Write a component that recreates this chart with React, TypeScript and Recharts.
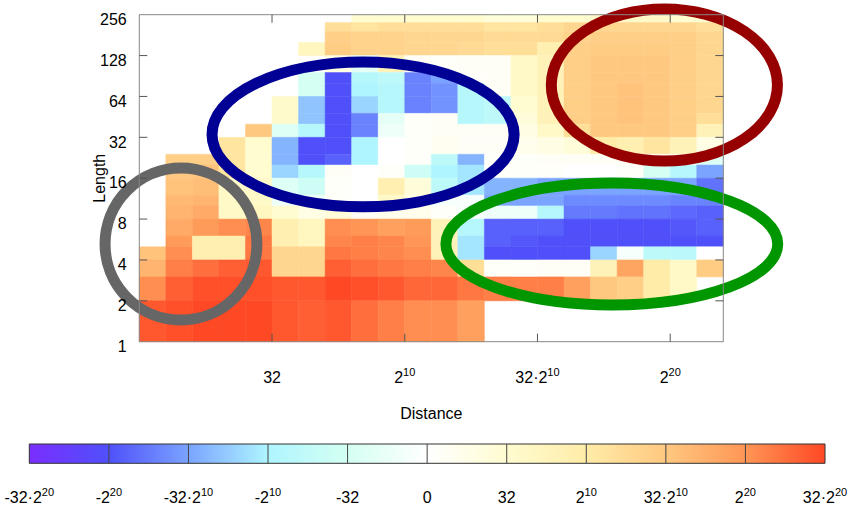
import React from "react";
import { ScatterChart, Scatter, XAxis, YAxis, ReferenceArea, ReferenceLine } from "recharts";

const FONT = "'Liberation Sans', Arial, Helvetica, sans-serif";

// row bands of the length axis (integer lengths grouped into bands)
const lengthEdges = [1, 2, 3, 4, 5, 6, 8, 10, 12, 16, 20, 24, 32, 40, 48, 64, 80, 96, 128, 160, 192, 224, 256];

// distance columns, one per power of two: 2^0 .. 2^21
const distanceExps = [0, 1, 2, 3, 4, 5, 6, 7, 8, 9, 10, 11, 12, 13, 14, 15, 16, 17, 18, 19, 20, 21];

const _ = null;
// signed log2 of each cell's value (e.g. -20 => -2^20); rows go from the top band (224-256) down to (1-2)
const heat: (number | null)[][] = [
  [_, _, _, _, _, _, _, _, 5, 5, 5, 5, 5, 4, 4, 5, 5, 6, 6, 6, 5, 5],
  [_, _, _, _, _, _, _, 12, 11, 12, 12, 12, 12, 11, 11, 12, 13, 13, 13, 13, 13, 12],
  [_, _, _, _, _, _, _, 14, 13.5, 13.5, 13, 13, 13, 12.5, 12.5, 12.5, 13.5, 14, 14, 14, 14, 13],
  [_, _, _, _, _, _, 7, 14.5, 13.5, 13.5, 13, 13, 12.5, 12, 12, 9, 14, 14.5, 14.5, 14.5, 14, 13],
  [_, _, _, _, _, _, _, 3, -3, 8, 1, 0.5, 1, 1, 6, 8, 14, 15, 15, 15, 14, 13],
  [_, _, _, _, _, _, -5, -20, -9, -8, -17, -15, 0.5, 1, 6, 8, 14, 15, 15, 15, 14, 13],
  [_, _, _, _, _, _, -5, -20, -10, -9, -17, -16, -9, 1, 6, 8, 14, 15, 15.5, 15, 14, 13],
  [_, _, _, _, _, 5.5, -13, -20, -12, -9, -17, -16, -9, -8, 5, 8, 14, 15, 15.5, 15, 14, 13],
  [_, _, _, _, _, 5.5, -13, -20, -17, -3, 0.5, 1, -9, -8, 4, 8, 14, 15, 15.5, 15, 14, 12],
  [_, _, _, _, 15, -4, -9, -20, -17, -2, 0.5, 1, 1, 1, 3, 6, 12, 15, 15, 15, 14, 8],
  [_, _, _, 11, 5, -14, -20, -20, -10, 0, 0.5, 1.5, 1, 1, 2, 3, 4, 10, 9, 11, 8, 3],
  [_, 14, 14, 11, 5, -14, -20, -19, -10, 0, 0.5, -8, -14, 0.5, 0.5, 1, 1, 1, 1, 1, 1, -4],
  [_, 15, 15.5, 11, 5, -12, -9, 1, 0, 0.5, -6, -10, -11, 0.5, 0.5, 0.5, 0, 0, 0.5, -5, -9, -15],
  [_, 15.5, 16, 6, 6, -4, -6, 0.5, 0, 9, 4, -8, -11, -14, -14, -15, -15, -15, -15, -15, -15, -18],
  [_, 16.5, 17, 6, 6, -2, -2, 0.5, 0, 6, 3, -1, -1, -15, -15, -15, -16.5, -16.5, -16.5, -16.5, -17, -17],
  [_, 17, 18, 6, 7, 5, 3, 4, 1, 2, 2, 0.5, -1, -2, -2, -9, -17.5, -17.5, -18, -18, -18.5, -19],
  [_, 18, 19.5, 20.5, 21, 9, 7, 20.5, 20, 19, 19.5, 8, -9, -19, -19, -19, -20, -20, -20, -20, -19.5, -19],
  [_, 19.5, 9, 9, 22, 9, 7, 21, 21.5, 21, 20, 8, -11, -19, -19.5, -20, -20, -20, -20, -20, -20, -20],
  [15.5, 20.5, 9, 9, 22, 13, 13, 22, 21.5, 21, 20.5, 8, -11, -20, -20, -20, -20, -12, -1, -8, -8.5, 0],
  [17, 21.5, 22.5, 23.5, 24, 13, 13, 23.5, 22.5, 22, 21.5, 21, 12, 0.5, 0.5, 1, 1, 8, 18.5, 10, 6, 14.5],
  [20.5, 23.5, 24.5, 24.5, 24.5, 24, 24, 25, 24.5, 24, 23, 23, 22, 21.5, 21.5, 21.5, 19, 15, 14, 10, 6, _],
  [24, 24.5, 25, 25, 25, 24, 23.5, 24, 22.5, 21.5, 20.5, 20.5, 19, _, _, _, _, _, _, _, _, _],
];

// highlighted regions: centre and radii in axis units (log2 distance, log2 length)
const regionNames = ["short", "middle", "far-long", "far-short"];
const regionCenters = [[1.57, 2.39], [8.43, 5.07], [19.78, 6.28], [17.8, 2.39]];
const regionRadii = [[2.86, 1.86], [5.69, 1.77], [4.26, 1.86], [6.25, 1.49]];
const regionColors = ["#666666", "#000094", "#960000", "#009600"];

const xTickValues = [5, 10, 15, 20];
const xTickLabels = [["32", ""], ["2", "10"], ["32·2", "10"], ["2", "20"]];
const yTickValues = [0, 1, 2, 3, 4, 5, 6, 7, 8];

const cbarTickValues = [-5, -4, -3, -2, -1, 0, 1, 2, 3, 4, 5];
const cbarTickLabels = [
  ["-32·2", "20"], ["-2", "20"], ["-32·2", "10"], ["-2", "10"], ["-32", ""], ["0", ""],
  ["32", ""], ["2", "10"], ["32·2", "10"], ["2", "20"], ["32·2", "20"],
];

// colour scale: position on the colour bar (value exponent / 5) -> rgb
const cmapPos = [-5, -4, -3, -2, -1, 0, 1, 2, 3, 4, 5];
const cmapRgb = [
  [122, 46, 255], [80, 80, 250], [122, 164, 255], [175, 245, 255], [212, 255, 242], [255, 255, 255],
  [255, 252, 208], [255, 236, 168], [255, 200, 128], [255, 150, 85], [255, 72, 36],
];

const X_MAX = 22;
const Y_MAX = 8;
const PLOT_W = 584;
const PLOT_H = 327;
// inward tick length (8px) in axis units
const TICK_X = (8 * X_MAX) / PLOT_W;
const TICK_Y = (8 * Y_MAX) / PLOT_H;

function rgbAt(t: number) {
  const v = Math.max(-5, Math.min(5, t));
  let i = 0;
  while (i < cmapPos.length - 2 && v > cmapPos[i + 1]) i++;
  const f = (v - cmapPos[i]) / (cmapPos[i + 1] - cmapPos[i]);
  const a = cmapRgb[i];
  const b = cmapRgb[i + 1];
  const c = a.map((x, k) => Math.round(x + (b[k] - x) * f));
  return `rgb(${c[0]},${c[1]},${c[2]})`;
}

const nBands = lengthEdges.length - 1;
const cells: { x1: number; x2: number; y1: number; y2: number; cx: number; cy: number; fill: string }[] = [];
heat.forEach((row, i) => {
  const band = nBands - 1 - i;
  row.forEach((v, c) => {
    if (v === null) return;
    const y1 = Math.log2(lengthEdges[band]);
    const y2 = Math.log2(lengthEdges[band + 1]);
    cells.push({
      x1: distanceExps[c],
      x2: distanceExps[c] + 1,
      y1,
      y2,
      cx: distanceExps[c] + 0.5,
      cy: (y1 + y2) / 2,
      fill: rgbAt(v / 5),
    });
  });
});

// frame and inward tick marks, drawn above the cells
type Seg = [{ x: number; y: number }, { x: number; y: number }];
const frame: Seg[] = [
  [{ x: 0, y: 0 }, { x: X_MAX, y: 0 }],
  [{ x: 0, y: Y_MAX }, { x: X_MAX, y: Y_MAX }],
  [{ x: 0, y: 0 }, { x: 0, y: Y_MAX }],
  [{ x: X_MAX, y: 0 }, { x: X_MAX, y: Y_MAX }],
];
const tickSegs: Seg[] = [
  ...xTickValues.map((v): Seg => [{ x: v, y: 0 }, { x: v, y: TICK_Y }]),
  ...xTickValues.map((v): Seg => [{ x: v, y: Y_MAX }, { x: v, y: Y_MAX - TICK_Y }]),
  ...yTickValues.slice(1, -1).map((v): Seg => [{ x: 0, y: v }, { x: TICK_X, y: v }]),
  ...yTickValues.slice(1, -1).map((v): Seg => [{ x: X_MAX, y: v }, { x: X_MAX - TICK_X, y: v }]),
];

const cbarPoints = cbarTickValues.map((v) => ({ t: v, h: 0.5 }));

function SupText({ x, y, label }: { x: number; y: number; label: string[] }) {
  return (
    <text x={x} y={y} textAnchor="middle" fontSize={16} fontFamily={FONT} fill="#000">
      <tspan>{label[0]}</tspan>
      {label[1] ? (
        <tspan dy={-7} fontSize={11}>
          {label[1]}
        </tspan>
      ) : null}
    </text>
  );
}

function EllipseShape(props: any) {
  const { x, y, width, height, stroke } = props;
  return (
    <ellipse
      cx={x + width / 2}
      cy={y + height / 2}
      rx={Math.abs(width) / 2}
      ry={Math.abs(height) / 2}
      fill="none"
      stroke={stroke}
      strokeWidth={11}
    />
  );
}

const noDot = () => <g />;

export default function App() {
  return (
    <div style={{ position: "absolute", left: 0, top: 0, width: 850, height: 512, background: "#fff" }}>
      <ScatterChart
        width={850}
        height={430}
        margin={{ top: 14.7, right: 126.7, bottom: 8.3, left: 79.3 }}
      >
        <XAxis
          dataKey="cx"
          type="number"
          domain={[0, X_MAX]}
          ticks={xTickValues}
          allowDataOverflow
          height={80}
          tickSize={0}
          tickMargin={0}
          interval={0}
          axisLine={false}
          tickLine={false}
          tick={(p: any) => {
            const i = xTickValues.indexOf(p.payload.value);
            return <SupText x={p.x} y={341.7 + 41.6} label={xTickLabels[i]} />;
          }}
          label={{
            content: (p: any) => {
              const vb = p.viewBox;
              return (
                <text x={vb.x + vb.width / 2} y={vb.y + 76.8} textAnchor="middle" fontSize={16} fontFamily={FONT} fill="#000">
                  Distance
                </text>
              );
            },
          }}
        />
        <YAxis
          dataKey="cy"
          type="number"
          domain={[0, Y_MAX]}
          ticks={yTickValues}
          allowDataOverflow
          width={60}
          tickSize={0}
          tickMargin={0}
          interval={0}
          axisLine={false}
          tickLine={false}
          tick={(p: any) => (
            <text x={126.7} y={p.y + 10.2} textAnchor="end" fontSize={16} fontFamily={FONT} fill="#000">
              {String(2 ** p.payload.value)}
            </text>
          )}
          label={{
            content: (p: any) => {
              const vb = p.viewBox;
              const cx = vb.x + 20;
              const cy = vb.y + vb.height / 2;
              return (
                <text
                  x={cx}
                  y={cy}
                  transform={`rotate(-90 ${cx} ${cy})`}
                  textAnchor="middle"
                  dominantBaseline="central"
                  fontSize={16}
                  fontFamily={FONT}
                  fill="#000"
                >
                  Length
                </text>
              );
            },
          }}
        />
        <Scatter data={cells} dataKey="cy" isAnimationActive={false} shape={noDot} />
        {cells.map((c, i) => (
          <ReferenceArea
            key={`cell-${i}`}
            x1={c.x1}
            x2={c.x2}
            y1={c.y1}
            y2={c.y2}
            fill={c.fill}
            fillOpacity={1}
            stroke={c.fill}
            strokeWidth={0.5}
          />
        ))}
        {frame.map((s, i) => (
          <ReferenceLine key={`frame-${i}`} segment={s} stroke="#888" strokeWidth={1} ifOverflow="visible" />
        ))}
        {tickSegs.map((s, i) => (
          <ReferenceLine key={`tick-${i}`} segment={s} stroke="#555" strokeWidth={1} ifOverflow="visible" />
        ))}
        {regionNames.map((name, i) => (
          <ReferenceArea
            key={name}
            x1={regionCenters[i][0] - regionRadii[i][0]}
            x2={regionCenters[i][0] + regionRadii[i][0]}
            y1={regionCenters[i][1] - regionRadii[i][1]}
            y2={regionCenters[i][1] + regionRadii[i][1]}
            ifOverflow="visible"
            stroke={regionColors[i]}
            shape={<EllipseShape />}
          />
        ))}
      </ScatterChart>
      <ScatterChart width={850} height={82} margin={{ top: 14, right: 25, bottom: 8.7, left: 29.3 }}>
        <defs>
          <linearGradient id="cbar" x1="0" y1="0" x2="1" y2="0">
            {cmapPos.map((p) => (
              <stop key={p} offset={`${(p + 5) * 10}%`} stopColor={rgbAt(p)} />
            ))}
          </linearGradient>
        </defs>
        <XAxis
          dataKey="t"
          type="number"
          domain={[-5, 5]}
          ticks={cbarTickValues}
          height={40}
          tickSize={0}
          tickMargin={0}
          interval={0}
          axisLine={false}
          tickLine={false}
          tick={(p: any) => {
            const i = cbarTickValues.indexOf(p.payload.value);
            return <SupText x={p.x} y={73.3} label={cbarTickLabels[i]} />;
          }}
        />
        <YAxis dataKey="h" type="number" domain={[0, 1]} hide />
        <Scatter data={cbarPoints} isAnimationActive={false} shape={noDot} />
        <ReferenceArea x1={-5} x2={5} y1={0} y2={1} fill="url(#cbar)" fillOpacity={1} stroke="#333" strokeWidth={1} />
        {cbarTickValues.slice(1, -1).map((v) => (
          <ReferenceLine key={v} x={v} stroke="#444" strokeWidth={1} />
        ))}
      </ScatterChart>
    </div>
  );
}
